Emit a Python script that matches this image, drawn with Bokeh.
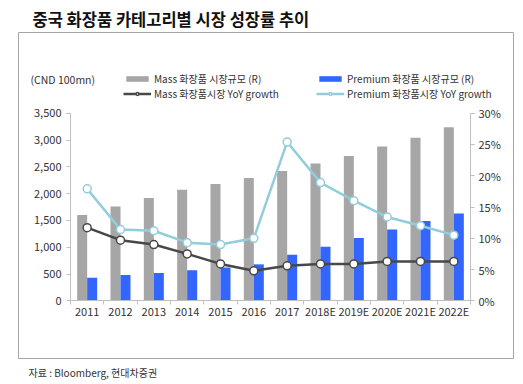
from bokeh.plotting import figure
from bokeh.models import (Range1d, LinearAxis, FixedTicker, NumeralTickFormatter,
                          PrintfTickFormatter, Legend, LegendItem, Label,
                          ColumnDataSource)
from bokeh.transform import dodge
from bokeh.embed import file_html
from bokeh.resources import INLINE

years = ["2011", "2012", "2013", "2014", "2015", "2016", "2017",
         "2018E", "2019E", "2020E", "2021E", "2022E"]
mass_size = [1600, 1760, 1920, 2070, 2180, 2290, 2420, 2560, 2700, 2880, 3040, 3240]
premium_size = [430, 480, 520, 570, 620, 680, 860, 1010, 1170, 1330, 1490, 1630]
mass_yoy = [11.7, 9.7, 9.0, 7.5, 5.9, 4.8, 5.6, 5.9, 5.9, 6.3, 6.3, 6.3]
premium_yoy = [17.9, 11.4, 11.2, 9.3, 9.0, 10.0, 25.4, 18.9, 16.0, 13.4, 12.0, 10.5]
left_ticks = [0, 500, 1000, 1500, 2000, 2500, 3000, 3500]
right_ticks = [0, 5, 10, 15, 20, 25, 30]
LMAX, RMAX = 3500, 30

FONT = "Noto Sans CJK KR"
TXT = "#333333"
AX = "#bfbfbf"
BOX = "#a6a6a6"

# canvas geometry (pixels from the figure's top-left)
W, H = 523, 384
PX_L, PX_R = 70, 470        # x pixel of axis start / end
PX_B, PX_T = 300.3, 112.7   # y pixel (from top) of value 0 / max
N = len(years)

x_start = -PX_L / (PX_R - PX_L) * N
x_end = N + (W - PX_R) / (PX_R - PX_L) * N
fy_start = -(H - PX_B) / (PX_B - PX_T)
fy_end = 1 + PX_T / (PX_B - PX_T)

p = figure(width=W, height=H, x_range=Range1d(x_start, x_end),
           y_range=Range1d(fy_start * LMAX, fy_end * LMAX),
           x_axis_type=None, y_axis_type=None,
           output_backend="svg", toolbar_location=None,
           min_border=0)
p.outline_line_color = None
p.xgrid.visible = False
p.ygrid.visible = False
p.extra_y_ranges = {"pct": Range1d(fy_start * RMAX, fy_end * RMAX)}


def px_x(px):
    return x_start + px / W * (x_end - x_start)


def px_y(py):
    return fy_end * LMAX - py / H * (fy_end - fy_start) * LMAX


# outer border box drawn with axes whose ticks and labels are hidden
bl, br, bt, bb = px_x(18), px_x(513), px_y(32), px_y(358)


def edge(side, loc, lo, hi):
    mid = (lo + hi) / 2
    ax = LinearAxis(fixed_location=loc, bounds=(lo, hi),
                    ticker=FixedTicker(ticks=[mid], minor_ticks=[]),
                    major_label_overrides={mid: " "})
    ax.axis_line_color = BOX
    ax.axis_line_width = 1
    ax.major_tick_line_color = None
    ax.minor_tick_line_color = None
    ax.major_label_text_alpha = 0
    ax.major_label_text_font_size = "1px"
    p.add_layout(ax, side)


edge("left", bl, bb, bt)
edge("right", br, bb, bt)
edge("above", bt, bl, br)
edge("below", bb, bl, br)

xpos = [i + 0.5 for i in range(N)]
src = ColumnDataSource(dict(x=xpos, mass=mass_size, prem=premium_size,
                            myoy=mass_yoy, pyoy=premium_yoy))


def style_axis(ax):
    ax.axis_line_color = AX
    ax.major_tick_line_color = AX
    ax.minor_tick_line_color = AX
    ax.major_label_text_font = FONT
    ax.major_label_text_font_size = "11px"
    ax.major_label_text_color = TXT


yl = LinearAxis(fixed_location=0, bounds=(0, LMAX),
                ticker=FixedTicker(ticks=left_ticks, minor_ticks=[]),
                formatter=NumeralTickFormatter(format="0,0"))
style_axis(yl)
yl.major_tick_out = 4
yl.major_tick_in = 0
yl.major_label_standoff = 5
p.add_layout(yl, "left")

yr = LinearAxis(y_range_name="pct", fixed_location=N, bounds=(0, RMAX),
                ticker=FixedTicker(ticks=right_ticks, minor_ticks=[]),
                formatter=PrintfTickFormatter(format="%d%%"))
style_axis(yr)
yr.major_tick_out = 4
yr.major_tick_in = 0
yr.major_label_standoff = 4
p.add_layout(yr, "right")

xa = LinearAxis(fixed_location=0, bounds=(0, N),
                ticker=FixedTicker(ticks=xpos, minor_ticks=list(range(N + 1))),
                major_label_overrides={x: y for x, y in zip(xpos, years)})
style_axis(xa)
xa.major_tick_out = 0
xa.major_tick_in = 0
xa.minor_tick_out = 4
xa.minor_tick_in = 0
xa.major_label_standoff = -2
p.add_layout(xa, "below")

mb = p.vbar(x=dodge("x", -0.15), top="mass", width=0.3, source=src,
            fill_color="#a6a6a6", line_color=None)
pb = p.vbar(x=dodge("x", 0.15), top="prem", width=0.3, source=src,
            fill_color="#3366ff", line_color=None)

ml = p.line("x", "myoy", source=src, y_range_name="pct", line_color="#484848", line_width=2.5)
ms = p.scatter("x", "myoy", source=src, y_range_name="pct", marker="circle", size=8,
               fill_color="white", line_color="#484848", line_width=1.5)
pl = p.line("x", "pyoy", source=src, y_range_name="pct", line_color="#92cddc", line_width=2.5)
ps = p.scatter("x", "pyoy", source=src, y_range_name="pct", marker="circle", size=8,
               fill_color="white", line_color="#92cddc", line_width=1.5)

ITEM_H = 20


def mk_legend(label, renderers, left, center_y):
    lg = Legend(items=[LegendItem(label=label, renderers=renderers)],
                location=(left, H - center_y - ITEM_H / 2), orientation="vertical",
                padding=0, spacing=0, margin=0, label_standoff=3,
                glyph_width=28, glyph_height=7, label_height=ITEM_H,
                label_text_font=FONT, label_text_font_size="10px",
                label_text_color=TXT, border_line_color=None,
                background_fill_alpha=0)
    p.add_layout(lg, "center")


ROW1, ROW2 = 78.6, 93.2
mk_legend("Mass 화장품 시장규모 (R)", [mb], 123, ROW1)
mk_legend("Mass 화장품시장 YoY growth", [ml, ms], 123, ROW2)
mk_legend("Premium 화장품 시장규모 (R)", [pb], 316, ROW1)
mk_legend("Premium 화장품시장 YoY growth", [pl, ps], 316, ROW2)

p.add_layout(Label(x=30, y=H - ROW1, x_units="screen", y_units="screen", text="(CND 100mn)",
                   text_font=FONT, text_font_size="10.5px", text_color=TXT,
                   text_baseline="middle"))
p.add_layout(Label(x=32, y=H - 18, x_units="screen", y_units="screen",
                   text="중국 화장품 카테고리별 시장 성장률 추이",
                   text_font=FONT, text_font_size="16.5px", text_font_style="bold",
                   text_color="#111111", text_baseline="middle"))
p.add_layout(Label(x=28, y=H - 372, x_units="screen", y_units="screen",
                   text="자료 : Bloomberg, 현대차증권",
                   text_font=FONT, text_font_size="10px", text_color=TXT,
                   text_baseline="middle"))

open("out.html", "w").write(file_html(p, INLINE))
